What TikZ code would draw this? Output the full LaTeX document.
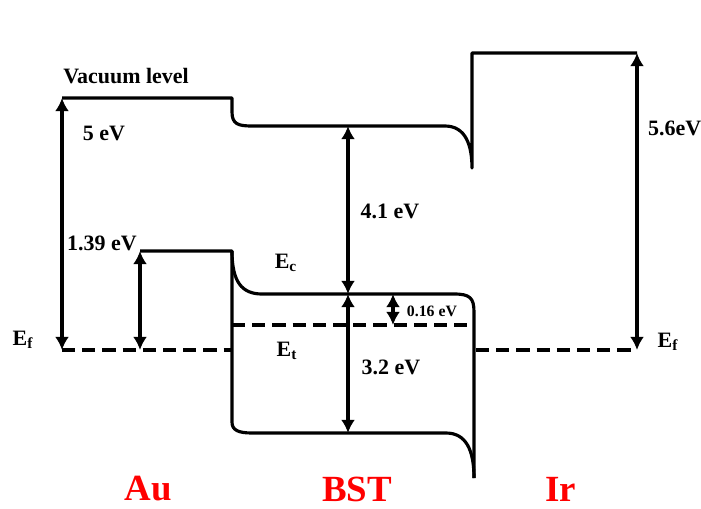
\documentclass[tikz,border=0pt]{standalone}
\usepackage{fontspec}
\setmainfont{Liberation Serif}
\usetikzlibrary{arrows.meta}
\definecolor{MetalRed}{HTML}{FF0000}
\tikzset{
 band/.style={line width=1.8pt, line join=round},
 fermi/.style={line width=2.2pt, dash pattern=on 7.5pt off 4pt},
 gap/.style={{Latex[length=7.5pt,width=8pt]}-{Latex[length=7.5pt,width=8pt]}, line width=2.1pt},
 lbl/.style={font=\bfseries\fontsize{12.5}{14}\selectfont, inner sep=1pt},
 smalllbl/.style={font=\bfseries\fontsize{9}{10}\selectfont, inner sep=1pt},
 metal/.style={font=\bfseries\fontsize{21}{24}\selectfont, text=MetalRed, inner sep=1pt}
}
\begin{document}
\begin{tikzpicture}[x=0.02cm,y=-0.02cm]
\useasboundingbox (0,0) rectangle (701,508);
\coordinate (auvac) at (62,98);\coordinate (auef) at (62,350);
\coordinate (sbtop) at (140,251);\coordinate (sbef) at (140,350);
\coordinate (bstvac) at (348,126);\coordinate (bstec) at (348,294);\coordinate (bstev) at (348,433);
\coordinate (ttop) at (393,294);\coordinate (tlvl) at (393,325);
\coordinate (irvac) at (637,53);\coordinate (iref) at (637,350);
\draw[band] (auvac) -- (232,98) -- (232,112) .. controls (232,124) and (238,126) .. (252,126) -- (445,126) .. controls (466,126) and (472,146) .. (472,168) -- (472,53) -- (irvac);
\draw[band] (sbtop) -- (232,251) .. controls (232,282) and (242,294) .. (262,294) -- (454,294) .. controls (470,294) and (474,298) .. (474,312) -- (474,478);
\draw[band] (232,251) -- (232,422) .. controls (232,430) and (238,433) .. (252,433) -- (446,433) .. controls (466,433) and (474,450) .. (474,478);
\draw[fermi] (auef) -- (232,350);\draw[fermi] (476,350) -- (iref);\draw[fermi] (232,325) -- (468,325);
\draw[gap] (auvac) -- (auef);\draw[gap] (sbtop) -- (sbef);
\draw[gap] (bstvac) -- (bstec);\draw[gap] (bstec) -- (bstev);
\draw[gap] (ttop) -- (tlvl);\draw[gap] (irvac) -- (iref);
\node[lbl] (vac) at (126,76) {Vacuum level};
\node[lbl] (wau) at (104,133) {5 eV};
\node[lbl] (sb) at (102,243) {1.39 eV};
\node[lbl] (efl) at (23,340) {E$_\mathbf{f}$};
\node[lbl] (ec) at (286,263) {E$_\mathbf{c}$};
\node[lbl] (et) at (287,351) {E$_\mathbf{t}$};
\node[lbl] (chi) at (390,211) {4.1 eV};
\node[lbl] (eg) at (391,367) {3.2 eV};
\node[smalllbl] (trap) at (432,311) {0.16 eV};
\node[lbl,anchor=west] (wir) at (646,128) {5.6eV};
\node[lbl] (efr) at (668,342) {E$_\mathbf{f}$};
\node[metal] (au) at (148,489) {Au};
\node[metal] (bst) at (357,489) {BST};
\node[metal] (ir) at (561,489) {Ir};
\end{tikzpicture}
\end{document}
